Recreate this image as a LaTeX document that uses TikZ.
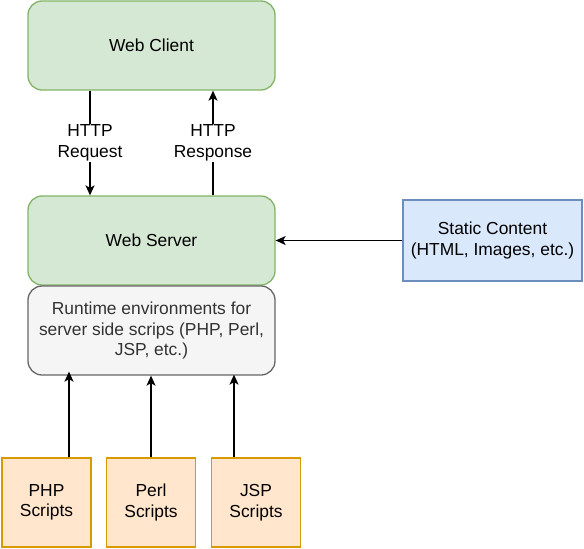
\documentclass[tikz,border=0pt]{standalone}
\usepackage{fontspec}
\setmainfont{Liberation Sans}
\usetikzlibrary{arrows.meta}

\begin{document}
\begin{tikzpicture}[x=1pt, y=-1pt, font=\fontsize{17.4}{20.5}\selectfont,
    box/.style={draw, line width=1.3pt, inner sep=0pt, align=center},
    greenBox/.style={box, rounded corners=14pt, fill=greenFill, draw=greenBorder, minimum width=247pt, minimum height=89pt},
    scriptBox/.style={box, fill=orangeFill, draw=orangeBorder, minimum width=89pt, minimum height=89pt},
    arr/.style={line width=1.4pt, -{Stealth[length=10pt, width=9pt, inset=2.5pt]}}]
    \definecolor{greenFill}{HTML}{D5E8D4}
    \definecolor{greenBorder}{HTML}{82B366}
    \definecolor{greyFill}{HTML}{F5F5F5}
    \definecolor{greyBorder}{HTML}{666666}
    \definecolor{greyText}{HTML}{333333}
    \definecolor{blueFill}{HTML}{DAE8FC}
    \definecolor{blueBorder}{HTML}{6C8EBF}
    \definecolor{orangeFill}{HTML}{FFE6CC}
    \definecolor{orangeBorder}{HTML}{D79B00}

    \useasboundingbox (0,0) rectangle (584,549);

    \node[greenBox] (client) at (151.5,45.5) {Web Client};
    \node[greenBox] (server) at (151.5,240.5) {Web Server};
    \node[greenBox, fill=greyFill, draw=greyBorder, text=greyText] (runtime) at (151.5,330.5)
        {Runtime environments for\\server side scrips (PHP, Perl,\\JSP, etc.)};
    \node[box, fill=blueFill, draw=blueBorder, minimum width=179pt, minimum height=81pt] (static) at (492.5,240.5)
        {Static Content\\(HTML, Images, etc.)};

    \node[scriptBox] (php) at (46.5,502.5) {PHP\\Scripts};
    \node[scriptBox] (perl) at (151,502.5) {Perl\\Scripts};
    \node[scriptBox] (jsp) at (256,502.5) {JSP\\Scripts};

    % HTTP traffic
    \draw[arr] ([xshift=-61.5]client.south) -- node[fill=white, align=center, inner sep=1pt] {HTTP\\Request} ([xshift=-61.5]server.north);
    \draw[arr] ([xshift=61.5]server.north) -- node[fill=white, align=center, inner sep=1pt] {HTTP\\Response} ([xshift=61.5]client.south);

    \draw[arr] (static.west) -- (server.east);

    % scripts
    \draw[arr] ([xshift=22.5]php.north) -- ([xshift=-82.5, yshift=4]runtime.south);
    \draw[arr] (perl.north) -- ([xshift=-0.5]runtime.south);
    \draw[arr] ([xshift=-22]jsp.north) -- ([xshift=82.5, yshift=1]runtime.south);

\end{tikzpicture}
\end{document}
